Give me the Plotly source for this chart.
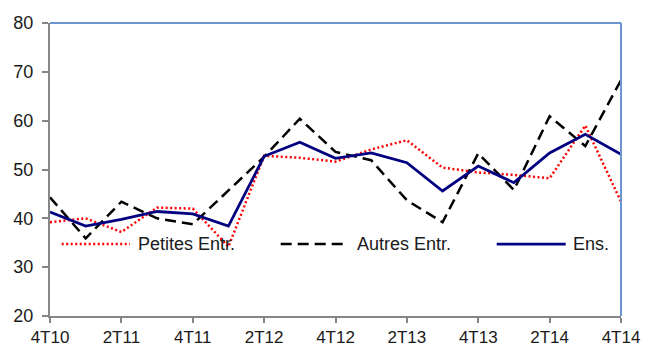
import plotly.graph_objects as go

# Quarterly survey balances, 4T10 .. 4T14
quarters = ["4T10", "1T11", "2T11", "3T11", "4T11", "1T12", "2T12", "3T12", "4T12",
            "1T13", "2T13", "3T13", "4T13", "1T14", "2T14", "3T14", "4T14"]
petites = [39.2, 40.0, 37.2, 42.2, 42.0, 34.2, 52.8, 52.4, 51.6,
           54.1, 56.0, 50.4, 49.4, 48.9, 48.2, 59.0, 43.4]
autres = [44.3, 35.9, 43.4, 40.0, 38.8, 45.6, 52.6, 60.4, 53.6,
          51.9, 43.7, 39.2, 53.3, 45.8, 60.9, 54.8, 68.3]
ensemble = [41.3, 38.4, 39.8, 41.4, 40.9, 38.4, 52.7, 55.6, 52.3,
            53.4, 51.4, 45.6, 50.7, 47.3, 53.4, 57.2, 53.1]

series_names = ["Petites Entr.", "Autres Entr.", "Ens."]
tick_labels = quarters[::2]

FONT = "Liberation Sans, Arial, sans-serif"
AXIS_GREY = "#868686"
FRAME_BLUE = "#6B95CE"

styles = [
    dict(color="#FF0000", width=2.5, dash="2px,2.5px"),
    dict(color="#000000", width=2.5, dash="11px,6px"),
    dict(color="#000080", width=2.8, dash="solid"),
]

fig = go.Figure()
for name, values, st in zip(series_names, [petites, autres, ensemble], styles):
    fig.add_trace(go.Scatter(x=quarters, y=values, name=name, mode="lines",
                             line=st, showlegend=False))

# Hand-placed legend row inside the plot area
legend_y = 0.2455
legend_pos = [(0.0205, 0.140, 0.150), (0.404, 0.5126, 0.534), (0.7823, 0.9032, 0.913)]
shapes = []
annotations = []
for name, st, (x0, x1, xt) in zip(series_names, styles, legend_pos):
    shapes.append(dict(type="line", xref="paper", yref="paper", x0=x0, x1=x1,
                       y0=legend_y, y1=legend_y, line=st))
    annotations.append(dict(xref="paper", yref="paper", x=xt, y=legend_y, text=name,
                            showarrow=False, xanchor="left", yanchor="middle",
                            font=dict(family=FONT, size=18, color="#1a1a1a")))

# Blue frame on the top and right edges of the plot area
shapes.append(dict(type="line", xref="paper", yref="paper", x0=0, x1=1, y0=1, y1=1,
                   line=dict(color=FRAME_BLUE, width=2), layer="above"))
shapes.append(dict(type="line", xref="paper", yref="paper", x0=1, x1=1, y0=0, y1=1,
                   line=dict(color=FRAME_BLUE, width=2), layer="above"))

fig.update_layout(
    width=645, height=347,
    margin=dict(l=50, r=24, t=23, b=31),
    paper_bgcolor="white", plot_bgcolor="white",
    font=dict(family=FONT, size=18, color="#1a1a1a"),
    shapes=shapes, annotations=annotations,
    showlegend=False,
)
fig.update_xaxes(
    type="category", range=[0, len(quarters) - 1],
    tickmode="array", tickvals=tick_labels, ticktext=tick_labels,
    showgrid=False, zeroline=False, automargin=False,
    showline=True, linecolor=AXIS_GREY, linewidth=2,
    ticks="outside", ticklen=5, tickcolor=AXIS_GREY, tickwidth=2,
    ticklabelstandoff=0,
    tickfont=dict(family=FONT, size=17, color="#1a1a1a"),
)
fig.update_yaxes(
    range=[20, 80], dtick=10,
    showgrid=False, zeroline=False, automargin=False,
    showline=True, linecolor=AXIS_GREY, linewidth=2,
    ticks="outside", ticklen=6, tickcolor=AXIS_GREY, tickwidth=2,
    ticklabelstandoff=5,
    tickfont=dict(family=FONT, size=18, color="#1a1a1a"),
)

fig.write_html("out.html")
